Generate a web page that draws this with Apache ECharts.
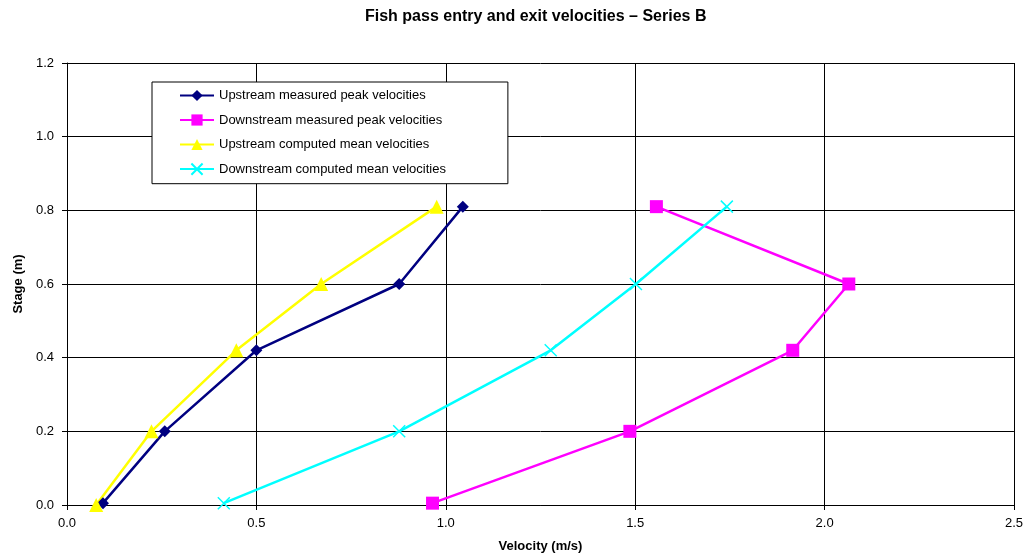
<!DOCTYPE html>
<html>
<head>
<meta charset="utf-8">
<script src="https://cdn.jsdelivr.net/npm/echarts@6/dist/echarts.min.js"></script>
<style>
  html, body { margin: 0; padding: 0; background: #fff; }
  #chart { width: 1026px; height: 558px; }
</style>
</head>
<body>
<div id="chart"></div>
<script>
// velocity (m/s) and stage (m) for each series
var upMeasuredV = [0.095, 0.258, 0.50, 0.877, 1.045];
var upMeasuredS = [0.005, 0.20, 0.42, 0.60, 0.81];
var downMeasuredV = [0.965, 1.486, 1.916, 2.064, 1.556];
var downMeasuredS = [0.005, 0.20, 0.42, 0.60, 0.81];
var upComputedV = [0.077, 0.223, 0.447, 0.671, 0.976];
var upComputedS = [0.0, 0.20, 0.42, 0.60, 0.81];
var downComputedV = [0.414, 0.877, 1.277, 1.502, 1.742];
var downComputedS = [0.005, 0.20, 0.42, 0.60, 0.81];
var seriesNames = [
    'Upstream measured peak velocities',
    'Downstream measured peak velocities',
    'Upstream computed mean velocities',
    'Downstream computed mean velocities'
];

function pairs(xs, ys) {
    return xs.map(function (x, i) { return [x, ys[i]]; });
}

var font = 'Liberation Sans, Arial, sans-serif';
var myChart = echarts.init(document.getElementById('chart'));

myChart.setOption({
    animation: false,
    textStyle: { fontFamily: font },
    title: {
        text: 'Fish pass entry and exit velocities \u2013 Series B',
        left: 360,
        top: 4,
        textStyle: { fontSize: 16, fontWeight: 'bold', color: '#000', fontFamily: font }
    },
    grid: { left: 67, right: 10, top: 63, bottom: 52 },
    legend: {
        orient: 'vertical',
        left: 152,
        top: 82,
        backgroundColor: '#fff',
        borderColor: '#000',
        borderWidth: 1,
        padding: [7, 62, 8, 27],
        itemWidth: 34,
        itemHeight: 14,
        itemGap: 11.5,
        textStyle: { fontSize: 13, color: '#000', fontFamily: font },
        data: seriesNames
    },
    xAxis: {
        type: 'value',
        min: 0, max: 2.5, interval: 0.5,
        name: 'Velocity (m/s)',
        nameLocation: 'middle',
        nameGap: 35,
        nameTextStyle: { fontSize: 13, fontWeight: 'bold', color: '#000' },
        axisLine: { lineStyle: { color: '#000', width: 1 } },
        axisTick: { show: true, length: 5, lineStyle: { color: '#000' } },
        axisLabel: { color: '#000', fontSize: 13, margin: 12, formatter: function (v) { return v.toFixed(1); } },
        splitLine: { show: true, lineStyle: { color: '#000', width: 1 } }
    },
    yAxis: {
        type: 'value',
        min: 0, max: 1.2, interval: 0.2,
        name: 'Stage (m)',
        nameLocation: 'middle',
        nameGap: 42,
        nameTextStyle: { fontSize: 13, fontWeight: 'bold', color: '#000' },
        axisLine: { show: true, lineStyle: { color: '#000', width: 1 } },
        axisTick: { show: true, length: 5, lineStyle: { color: '#000' } },
        axisLabel: { color: '#000', fontSize: 13, margin: 13, formatter: function (v) { return v.toFixed(1); } },
        splitLine: { show: true, lineStyle: { color: '#000', width: 1 } }
    },
    series: [
        {
            name: seriesNames[0],
            type: 'line',
            data: pairs(upMeasuredV, upMeasuredS),
            symbol: 'diamond',
            symbolSize: 12,
            itemStyle: { color: '#000080' },
            lineStyle: { color: '#000080', width: 2.5 }
        },
        {
            name: seriesNames[1],
            type: 'line',
            data: pairs(downMeasuredV, downMeasuredS),
            symbol: 'rect',
            symbolSize: 13,
            itemStyle: { color: '#FF00FF' },
            lineStyle: { color: '#FF00FF', width: 2.5 }
        },
        {
            name: seriesNames[2],
            type: 'line',
            data: pairs(upComputedV, upComputedS),
            symbol: 'triangle',
            symbolSize: 14,
            itemStyle: { color: '#FFFF00' },
            lineStyle: { color: '#FFFF00', width: 2.5 }
        },
        {
            name: seriesNames[3],
            type: 'line',
            data: pairs(downComputedV, downComputedS),
            symbol: 'path://M0,0L10,10M10,0L0,10',
            symbolSize: 12,
            itemStyle: { color: '#00FFFF', borderColor: '#00FFFF', borderWidth: 1.5 },
            lineStyle: { color: '#00FFFF', width: 2.5 }
        }
    ]
});
</script>
</body>
</html>
